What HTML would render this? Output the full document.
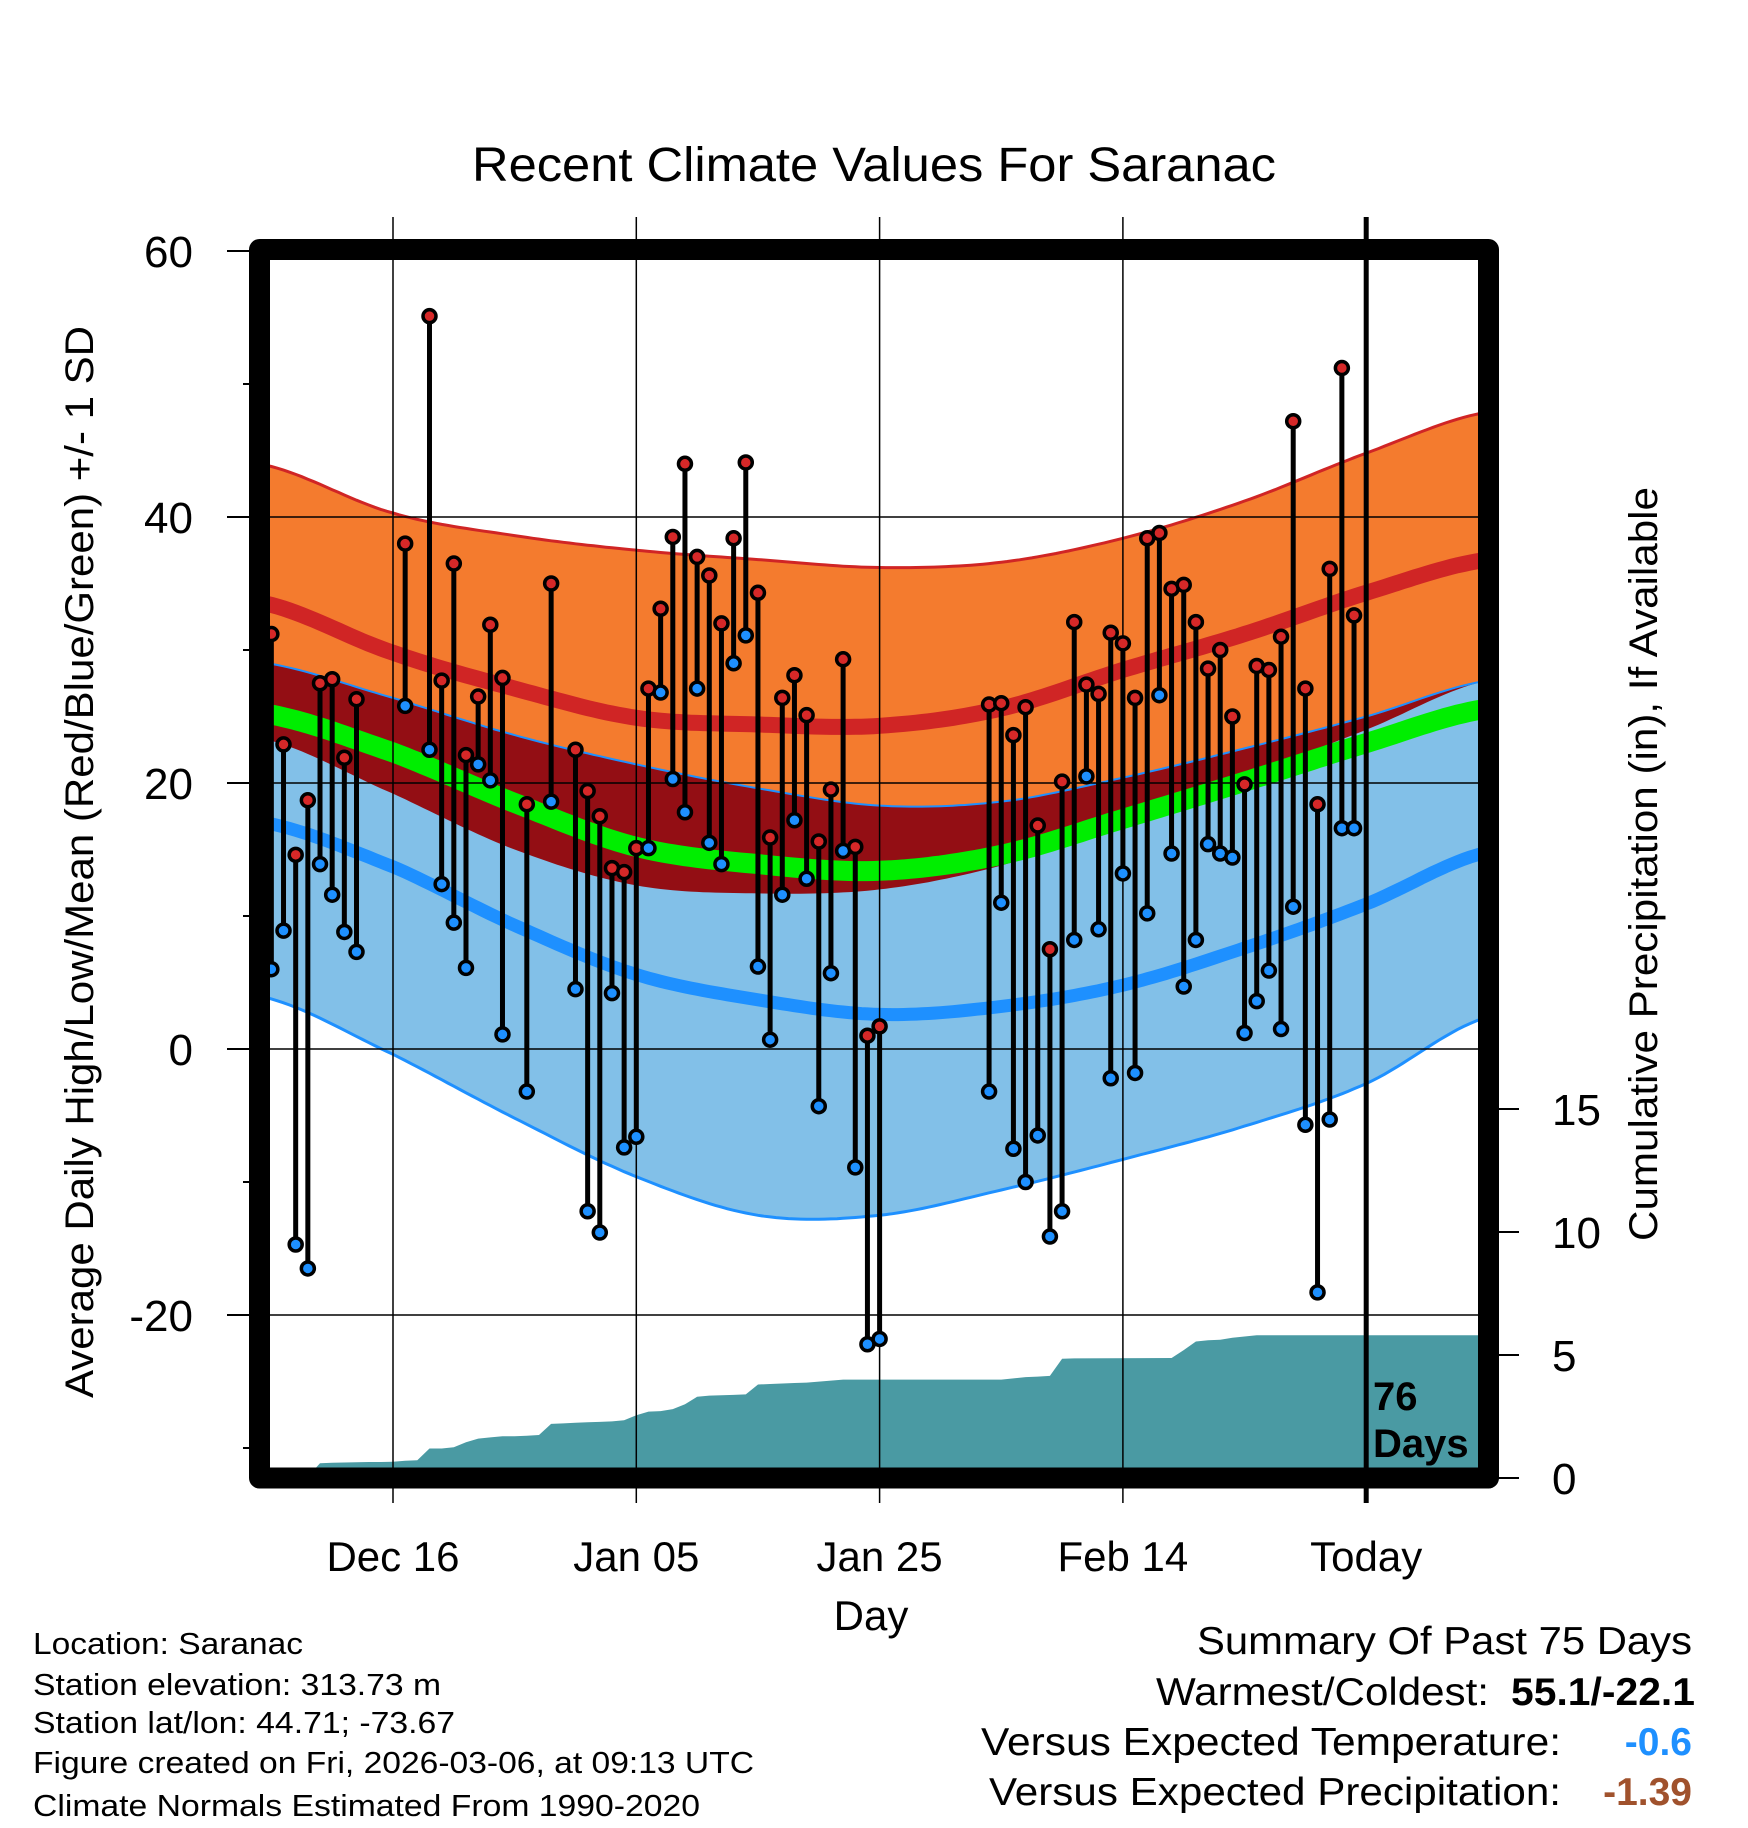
<!DOCTYPE html>
<html><head><meta charset="utf-8"><style>
html,body{margin:0;padding:0;background:#fff}
svg{display:block;font-family:"Liberation Sans",Arial,sans-serif}
</style></head><body>
<svg id="chart" width="1748" height="1828" viewBox="0 0 1748 1828" xmlns="http://www.w3.org/2000/svg">
<defs><clipPath id="plotclip"><rect x="270" y="260" width="1208" height="1208"/></clipPath></defs>
<g id="fills" clip-path="url(#plotclip)"></g>
<g id="grid"></g>
<g id="marks" clip-path="url(#plotclip)"></g>
<rect x="259.5" y="249.5" width="1229" height="1228.5" fill="none" stroke="#000" stroke-width="21" stroke-linejoin="round"/>
<g id="axes"></g>
<text x="874" y="181" font-size="48" text-anchor="middle" textLength="804" lengthAdjust="spacingAndGlyphs">Recent Climate Values For Saranac</text>
<text transform="translate(93,862) rotate(-90)" font-size="40" text-anchor="middle" textLength="1072" lengthAdjust="spacingAndGlyphs">Average Daily High/Low/Mean (Red/Blue/Green) +/- 1 SD</text>
<text transform="translate(1657,864) rotate(-90)" font-size="40" text-anchor="middle" textLength="754" lengthAdjust="spacingAndGlyphs">Cumulative Precipitation (in), If Available</text>
<text x="871" y="1630" font-size="42" text-anchor="middle">Day</text>
<text x="1373" y="1410" font-size="40" font-weight="bold">76</text>
<text x="1373" y="1457" font-size="40" font-weight="bold">Days</text>
<g font-size="31">
<text x="33" y="1654" textLength="270" lengthAdjust="spacingAndGlyphs">Location: Saranac</text>
<text x="33" y="1695" textLength="408" lengthAdjust="spacingAndGlyphs">Station elevation: 313.73 m</text>
<text x="33" y="1733" textLength="422" lengthAdjust="spacingAndGlyphs">Station lat/lon: 44.71; -73.67</text>
<text x="33" y="1773" textLength="721" lengthAdjust="spacingAndGlyphs">Figure created on Fri, 2026-03-06, at 09:13 UTC</text>
<text x="33" y="1816" textLength="667" lengthAdjust="spacingAndGlyphs">Climate Normals Estimated From 1990-2020</text>
</g>
<g font-size="39">
<text x="1692" y="1654" text-anchor="end" textLength="495" lengthAdjust="spacingAndGlyphs">Summary Of Past 75 Days</text>
<text x="1489" y="1705" text-anchor="end" textLength="333" lengthAdjust="spacingAndGlyphs">Warmest/Coldest:</text>
<text x="1695" y="1705" text-anchor="end" font-weight="bold" textLength="184" lengthAdjust="spacingAndGlyphs">55.1/-22.1</text>
<text x="1561" y="1755" text-anchor="end" textLength="580" lengthAdjust="spacingAndGlyphs">Versus Expected Temperature:</text>
<text x="1692" y="1755" text-anchor="end" font-weight="bold" fill="#1e90ff">-0.6</text>
<text x="1561" y="1805" text-anchor="end" textLength="572" lengthAdjust="spacingAndGlyphs">Versus Expected Precipitation:</text>
<text x="1692" y="1805" text-anchor="end" font-weight="bold" fill="#a0522d">-1.39</text>
</g>
</svg>
<script>
// ---- data ----
const normDays   = [-11, 0, 10, 20, 30, 40, 50, 60, 70, 80, 90];
const highPlusSD = [44.0, 40.3, 38.6, 37.5, 36.8, 36.2, 36.6, 38.4, 41.2, 44.8, 47.9];
const highMean   = [33.6, 29.8, 27.1, 24.9, 24.4, 24.3, 25.6, 28.5, 31.2, 34.3, 36.8];
const highMinusSD= [23.4, 19.2, 15.0, 12.3, 11.7, 12.0, 13.8, 17.0, 20.5, 24.0, 27.7];
const lowPlusSD  = [29.1, 26.4, 23.6, 21.4, 19.6, 18.3, 18.6, 20.4, 22.6, 25.0, 27.7];
const meanNormal = [25.3, 22.3, 18.5, 15.2, 13.9, 13.4, 14.6, 17.3, 20.1, 23.0, 25.6];
const lowMean    = [17.1, 13.7, 9.3, 5.6, 3.7, 2.6, 3.2, 4.8, 7.6, 10.9, 14.8];
const lowMinusSD = [4.0, -0.4, -5.2, -9.6, -12.5, -12.5, -10.6, -8.3, -5.8, -2.6, 2.4];

const obsDays = [-10,-9,-8,-7,-6,-5,-4,-3,1,3,4,5,6,7,8,9,11,13,15,16,17,18,19,20,21,22,23,24,25,26,27,28,29,30,31,32,33,34,35,36,37,38,39,40,49,50,51,52,53,54,55,56,57,58,59,60,61,62,63,64,65,66,67,68,69,70,71,72,73,74,75,76,77,78,79];
const obsHigh = [31.2,22.9,14.6,18.7,27.5,27.8,21.9,26.3,38.0,55.1,27.7,36.5,22.1,26.5,31.9,27.9,18.4,35.0,22.5,19.4,17.5,13.6,13.3,15.1,27.1,33.1,38.5,44.0,37.0,35.6,32.0,38.4,44.1,34.3,15.9,26.4,28.1,25.1,15.6,19.5,29.3,15.2,1.0,1.7,25.9,26.0,23.6,25.7,16.8,7.5,20.1,32.1,27.4,26.7,31.3,30.5,26.4,38.4,38.8,34.6,34.9,32.1,28.6,30.0,25.0,19.9,28.8,28.5,31.0,47.2,27.1,18.4,36.1,51.2,32.6];
const obsLow  = [6.0,8.9,-14.7,-16.5,13.9,11.6,8.8,7.3,25.8,22.5,12.4,9.5,6.1,21.4,20.2,1.1,-3.2,18.6,4.5,-12.2,-13.8,4.2,-7.4,-6.6,15.1,26.8,20.3,17.8,27.1,15.5,13.9,29.0,31.1,6.2,0.7,11.6,17.2,12.8,-4.3,5.7,14.9,-8.9,-22.2,-21.8,-3.2,11.0,-7.5,-10.0,-6.5,-14.1,-12.2,8.2,20.5,9.0,-2.2,13.2,-1.8,10.2,26.6,14.7,4.7,8.2,15.4,14.7,14.4,1.2,3.6,5.9,1.5,10.7,-5.7,-18.3,-5.3,16.6,16.6];

const precipDays = [-10,-9,-8,-7,-6,-5,-4,-3,-2,-1,0,1,2,3,4,5,6,7,8,9,10,11,12,13,14,15,16,17,18,19,20,21,22,23,24,25,26,27,28,29,30,31,32,33,34,35,36,37,38,50,51,52,53,54,55,56,64,65,66,67,68,69,70,71,79];
const precipCum  = [0,0,0,0.05,0.6,0.62,0.63,0.64,0.65,0.65,0.66,0.7,0.72,1.2,1.2,1.25,1.45,1.6,1.65,1.7,1.7,1.72,1.75,2.2,2.22,2.25,2.27,2.28,2.3,2.35,2.55,2.7,2.72,2.8,3.0,3.3,3.35,3.36,3.38,3.4,3.8,3.82,3.84,3.86,3.88,3.92,3.96,4.0,4.0,4.0,4.05,4.1,4.12,4.15,4.85,4.86,4.88,5.2,5.55,5.6,5.62,5.7,5.75,5.8,5.8];

const xTickDays = [0, 20, 40, 60, 80];
const xTickLabels = ["Dec 16", "Jan 05", "Jan 25", "Feb 14", "Today"];
const yTicks = [60, 40, 20, 0, -20];
const yMinor = [50, 30, 10, -10, -30];
const pTicks = [0, 5, 10, 15];

// ---- scales ----
const X = d => 393 + 12.165 * d;
const Y = t => 1049 - 13.3 * t;
const P = p => 1478 - 24.6 * p;
const NS = "http://www.w3.org/2000/svg";
function mk(tag, attrs, parent) {
  const e = document.createElementNS(NS, tag);
  for (const k in attrs) e.setAttribute(k, attrs[k]);
  parent.appendChild(e);
  return e;
}
function interp(arr, d) {
  let i = 0;
  while (i < normDays.length - 2 && d > normDays[i + 1]) i++;
  const p0 = arr[Math.max(i - 1, 0)], p1 = arr[i], p2 = arr[i + 1], p3 = arr[Math.min(i + 2, arr.length - 1)];
  const t = (d - normDays[i]) / (normDays[i + 1] - normDays[i]);
  const t2 = t * t, t3 = t2 * t;
  return 0.5 * ((2 * p1) + (-p0 + p2) * t + (2 * p0 - 5 * p1 + 4 * p2 - p3) * t2 + (-p0 + 3 * p1 - 3 * p2 + p3) * t3);
}
const samp = [];
for (let d = -11; d <= 90.01; d += 0.5) samp.push(d);
function line(arr) { return samp.map(d => X(d).toFixed(1) + "," + Y(interp(arr, d)).toFixed(1)).join(" "); }
function band(a, b) {
  const top = samp.map(d => X(d).toFixed(1) + "," + Y(interp(a, d)).toFixed(1));
  const bot = samp.slice().reverse().map(d => X(d).toFixed(1) + "," + Y(interp(b, d)).toFixed(1));
  return top.concat(bot).join(" ");
}

const fills = document.getElementById("fills");
let e;
e = mk("polygon", {points: band(highPlusSD, highMinusSD), fill: "#f47b2e"}, fills);


e = mk("polygon", {points: band(lowPlusSD, lowMinusSD), fill: "#82c0e8"}, fills);


const ovTop = samp.map(d => X(d).toFixed(1) + "," + Y(Math.min(interp(lowPlusSD, d), interp(highPlusSD, d))).toFixed(1));
const ovBot = samp.slice().reverse().map(d => X(d).toFixed(1) + "," + Y(Math.min(interp(highMinusSD, d), interp(lowPlusSD, d))).toFixed(1));
e = mk("polygon", {points: ovTop.concat(ovBot).join(" "), fill: "#930e14"}, fills);


e = mk("polyline", {points: line(highPlusSD), fill: "none", stroke: "#d02525", "stroke-width": 3}, fills);


e = mk("polyline", {points: line(lowPlusSD), fill: "none", stroke: "#1e90ff", "stroke-width": 2}, fills);


e = mk("polyline", {points: line(lowMinusSD), fill: "none", stroke: "#1e90ff", "stroke-width": 3}, fills);


e = mk("polyline", {points: line(highMean), fill: "none", stroke: "#d02525", "stroke-width": 16}, fills);


e = mk("polyline", {points: line(meanNormal), fill: "none", stroke: "#00ee00", "stroke-width": 20}, fills);


e = mk("polyline", {points: line(lowMean), fill: "none", stroke: "#1e90ff", "stroke-width": 13}, fills);



// precipitation area
let pp = [X(precipDays[0]).toFixed(1) + "," + P(0)];
for (let i = 0; i < precipDays.length; i++) pp.push(X(precipDays[i]).toFixed(1) + "," + P(precipCum[i]).toFixed(1));
const lastP = precipCum[precipCum.length - 1];
pp.push("1480," + P(lastP).toFixed(1));
pp.push("1480," + P(0));
e = mk("polygon", {points: pp.join(" "), fill: "#4a9aa3"}, fills);



// grid
const grid = document.getElementById("grid");
yTicks.forEach(t => {
  if (t === 60) return;
  const g = mk("line", {x1: 259, x2: 1489, y1: Y(t), y2: Y(t), stroke: "#000", "stroke-width": 1.5}, grid);
  
  
});
xTickDays.forEach((d, i) => {
  const today = xTickLabels[i] === "Today";
  const g = mk("line", {x1: X(d), x2: X(d), y1: 217, y2: 1503, stroke: "#000", "stroke-width": today ? 5 : 1.5}, grid);
  
  
});

// observations
const marks = document.getElementById("marks");
obsDays.forEach((d, i) => {
  const s = mk("line", {x1: X(d), x2: X(d), y1: Y(obsHigh[i]), y2: Y(obsLow[i]), stroke: "#000", "stroke-width": 5}, marks);
  
  
});
obsDays.forEach((d, i) => {
  const h = mk("circle", {cx: X(d), cy: Y(obsHigh[i]), r: 6.5, fill: "#d62828", stroke: "#000", "stroke-width": 3.5}, marks);
  
  
  const l = mk("circle", {cx: X(d), cy: Y(obsLow[i]), r: 6.5, fill: "#1e90ff", stroke: "#000", "stroke-width": 3.5}, marks);
  
  
});

// axes
const axes = document.getElementById("axes");
yTicks.forEach(t => {
  const tk = mk("line", {x1: 227, x2: 259, y1: Y(t), y2: Y(t), stroke: "#000", "stroke-width": 2}, axes);
  
  
  const tx = mk("text", {x: 193, y: Y(t) + 16, "font-size": 44, "text-anchor": "end"}, axes);
  tx.textContent = t;
  
  
});
yMinor.forEach(t => {
  const tk = mk("line", {x1: 243, x2: 259, y1: Y(t), y2: Y(t), stroke: "#000", "stroke-width": 2}, axes);
  
  
});
pTicks.forEach(p => {
  const tk = mk("line", {x1: 1489, x2: 1519, y1: P(p), y2: P(p), stroke: "#000", "stroke-width": 2}, axes);
  
  
  const tx = mk("text", {x: 1552, y: P(p) + 16, "font-size": 44}, axes);
  tx.textContent = p;
  
  
});
xTickDays.forEach((d, i) => {
  const tx = mk("text", {x: X(d), y: 1571, "font-size": 42, "text-anchor": "middle"}, axes);
  tx.textContent = xTickLabels[i];
  
  
});
</script>
</body></html>
